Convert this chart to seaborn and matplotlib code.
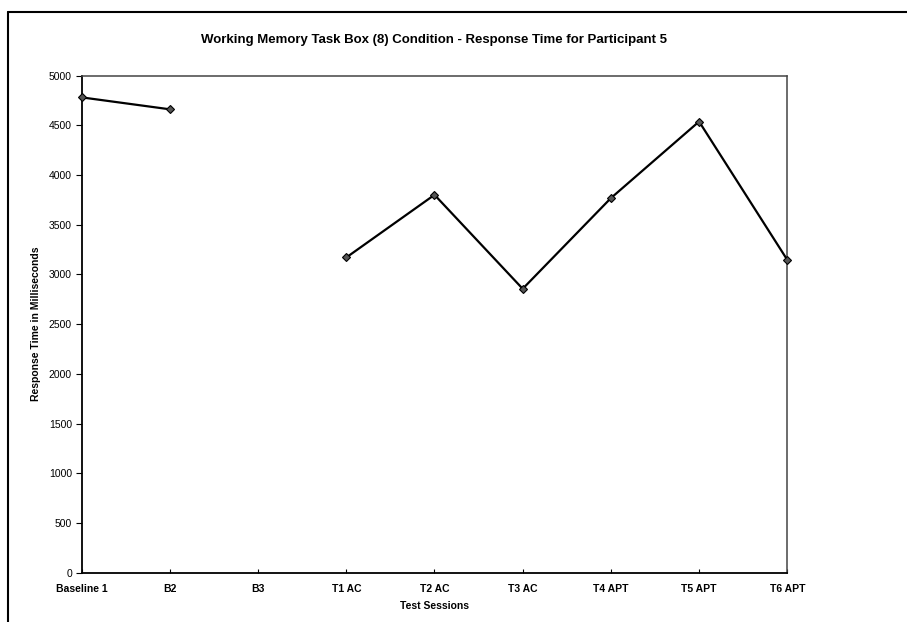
import numpy as np
import pandas as pd
import matplotlib
matplotlib.use('Agg')
import matplotlib.pyplot as plt
import seaborn as sns

# Data (B3 has no value)
sessions = ['Baseline 1', 'B2', 'B3', 'T1 AC', 'T2 AC', 'T3 AC', 'T4 APT', 'T5 APT', 'T6 APT']
response_ms = [4780, 4660, np.nan, 3170, 3800, 2855, 3767, 4537, 3146]
y_ticks = [0, 500, 1000, 1500, 2000, 2500, 3000, 3500, 4000, 4500, 5000]

sns.set_theme(style='white')
plt.rcParams['font.family'] = ['Liberation Sans', 'DejaVu Sans']
plt.rcParams['text.color'] = 'black'
plt.rcParams['axes.labelcolor'] = 'black'
plt.rcParams['xtick.color'] = 'black'
plt.rcParams['ytick.color'] = 'black'

df = pd.DataFrame({'session': sessions, 'rt': response_ms})
df['pos'] = np.arange(len(df))
# split into runs so the missing session leaves a gap in the line
df['segment'] = df['rt'].isna().cumsum()
df = df.dropna()

fig = plt.figure(figsize=(9.07, 6.22), dpi=100)
ax = fig.add_axes([0.0901, 0.0793, 0.7779, 0.7993])

for seg, part in df.groupby('segment'):
    sns.lineplot(data=part, x='pos', y='rt', ax=ax, color='black', linewidth=1.6,
                 marker='D', markersize=4.5, markerfacecolor='#555555',
                 markeredgecolor='black', markeredgewidth=0.8, clip_on=False, zorder=5)

ax.set_xlim(0, len(sessions) - 1)
ax.set_ylim(0, 5000)
ax.set_xticks(range(len(sessions)))
ax.set_xticklabels(sessions, fontsize=7.5, fontweight='bold')
ax.set_yticks(y_ticks)
ax.set_yticklabels([str(t) for t in y_ticks], fontsize=7.5)
ax.tick_params(axis='y', direction='out', length=4, width=0.8, pad=3, left=True)
ax.tick_params(axis='x', direction='in', length=3, width=0.8, pad=8, bottom=True)

for side in ['left', 'bottom']:
    ax.spines[side].set_color('black')
    ax.spines[side].set_linewidth(1.3)
for side in ['top', 'right']:
    ax.spines[side].set_color('#444444')
    ax.spines[side].set_linewidth(1.1)

ax.set_xlabel('Test Sessions', fontsize=7.5, fontweight='bold', labelpad=5)
ax.set_ylabel('Response Time in Milliseconds', fontsize=7.5, fontweight='bold', labelpad=6)
fig.text(0.478, 0.935, 'Working Memory Task Box (8) Condition - Response Time for Participant 5',
         ha='center', va='center', fontsize=9.5, fontweight='bold')

# outer chart border (left and top edges visible in the scan)
fig.add_artist(plt.Line2D([0.009, 0.009], [0.0, 0.98], transform=fig.transFigure,
                          color='black', linewidth=1.5))
fig.add_artist(plt.Line2D([0.009, 1.0], [0.98, 0.98], transform=fig.transFigure,
                          color='black', linewidth=1.5))

fig.savefig('out.png', dpi=100, facecolor='white')
plt.close(fig)
print("Saved out.png")
